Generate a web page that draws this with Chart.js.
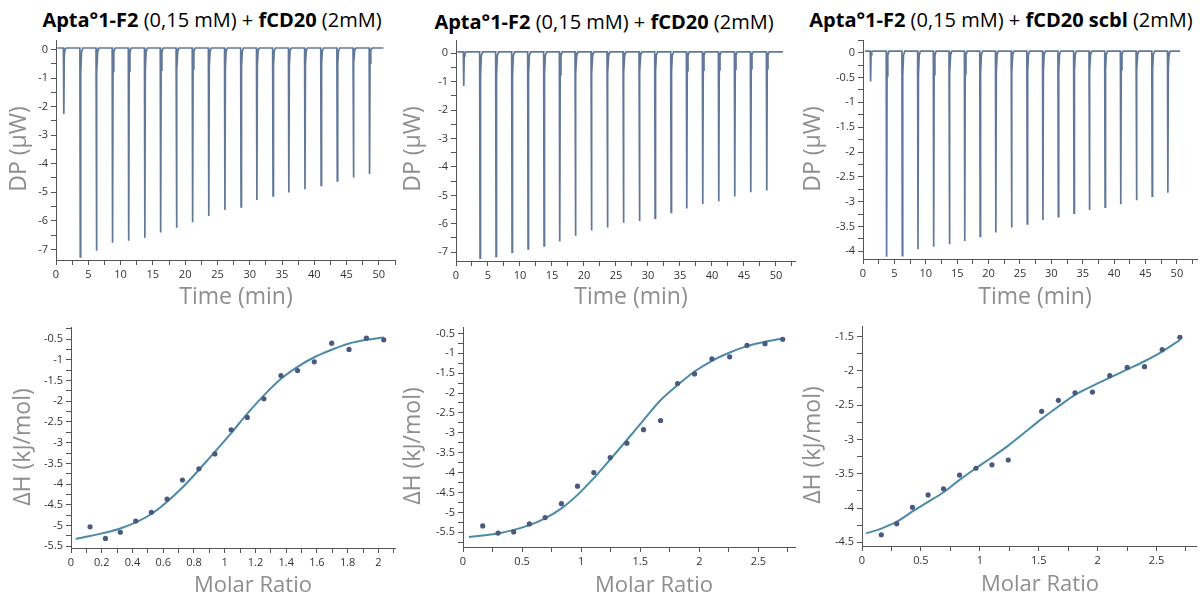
<!DOCTYPE html>
<html><head><meta charset="utf-8">
<script src="https://cdn.jsdelivr.net/npm/chart.js@4.4.1/dist/chart.umd.min.js"></script>
<style>
body{margin:0;width:1200px;height:601px;background:#fff;position:relative;overflow:hidden;font-family:"Open Sans",sans-serif}
.t{position:absolute;white-space:nowrap;font-size:20px;color:#000;transform:translateX(-50%);line-height:26px}
canvas{position:absolute}
</style></head><body>
<div class="t" style="left:212px;top:7px"><b>Apta°1-F2</b> (0,15 mM) + <b>fCD20</b> (2mM)</div>
<div class="t" style="left:604px;top:9px"><b>Apta°1-F2</b> (0,15 mM) + <b>fCD20</b> (2mM)</div>
<div class="t" style="left:1001px;top:7px"><b>Apta°1-F2</b> (0,15 mM) + <b>fCD20 scbl</b> (2mM)</div>
<canvas id="c1" width="400" height="282" style="left:0;top:30px"></canvas>
<canvas id="c2" width="400" height="282" style="left:400px;top:30px"></canvas>
<canvas id="c3" width="400" height="282" style="left:800px;top:30px"></canvas>
<canvas id="c4" width="400" height="284" style="left:0;top:317px"></canvas>
<canvas id="c5" width="400" height="284" style="left:400px;top:317px"></canvas>
<canvas id="c6" width="400" height="284" style="left:800px;top:317px"></canvas>
<script>
// ---- Thermogram data (Time in min, DP in µW) ----
const injectionTimes = [1.15, 3.7, 6.2, 8.7, 11.2, 13.7, 16.15, 18.6, 21.1, 23.6, 26.1, 28.6, 31.05, 33.55, 36.0, 38.5, 41.0, 43.5, 46.0, 48.5];
const peaksA = [-2.26, -7.26, -7.05, -6.77, -6.70, -6.59, -6.41, -6.24, -6.05, -5.83, -5.62, -5.51, -5.27, -5.13, -5.01, -4.89, -4.76, -4.60, -4.48, -4.36];
const peaksB = [-1.15, -7.21, -7.15, -7.00, -6.88, -6.78, -6.62, -6.42, -6.24, -6.13, -5.96, -5.90, -5.80, -5.60, -5.46, -5.30, -5.21, -5.04, -4.89, -4.83];
const peaksC = [-0.58, -4.11, -4.09, -3.96, -3.91, -3.86, -3.79, -3.70, -3.62, -3.52, -3.45, -3.37, -3.30, -3.23, -3.17, -3.11, -3.05, -2.97, -2.89, -2.82];
const baselines = [0.05, 0.05, 0.03];
const traceStart = [0.2, 0.2, 0.3];
const traceEnd = [50.7, 51.1, 50.5];

// ---- Isotherm data (Molar ratio, ΔH in kJ/mol) ----
const ratioA = [0.124, 0.224, 0.321, 0.421, 0.523, 0.625, 0.725, 0.832, 0.936, 1.042, 1.147, 1.255, 1.366, 1.474, 1.583, 1.696, 1.809, 1.922, 2.035];
const dhA = [-5.03, -5.31, -5.16, -4.89, -4.68, -4.36, -3.90, -3.63, -3.27, -2.69, -2.39, -1.94, -1.38, -1.26, -1.05, -0.60, -0.75, -0.48, -0.52];
const fitXA = [0.03, 0.124, 0.321, 0.523, 0.725, 0.936, 1.042, 1.147, 1.255, 1.366, 1.474, 1.583, 1.696, 1.809, 1.922, 2.035];
const fitYA = [-5.32, -5.25, -5.07, -4.72, -4.08, -3.22, -2.77, -2.30, -1.86, -1.46, -1.17, -0.94, -0.76, -0.61, -0.52, -0.46];

const ratioB = [0.167, 0.297, 0.429, 0.562, 0.695, 0.833, 0.969, 1.107, 1.246, 1.387, 1.528, 1.672, 1.816, 1.960, 2.107, 2.257, 2.404, 2.556, 2.706];
const dhB = [-5.34, -5.52, -5.49, -5.29, -5.13, -4.78, -4.34, -4.00, -3.62, -3.26, -2.92, -2.69, -1.76, -1.52, -1.14, -1.09, -0.80, -0.76, -0.65];
const fitXB = [0.05, 0.167, 0.297, 0.429, 0.562, 0.695, 0.833, 0.969, 1.107, 1.246, 1.387, 1.528, 1.672, 1.816, 1.960, 2.107, 2.257, 2.404, 2.556, 2.706];
const fitYB = [-5.62, -5.58, -5.53, -5.44, -5.32, -5.15, -4.90, -4.56, -4.14, -3.67, -3.18, -2.68, -2.18, -1.80, -1.46, -1.19, -0.98, -0.82, -0.71, -0.63];

const ratioC = [0.164, 0.295, 0.428, 0.561, 0.692, 0.828, 0.967, 1.103, 1.241, 1.525, 1.667, 1.808, 1.956, 2.103, 2.251, 2.398, 2.548, 2.698];
const dhC = [-4.39, -4.23, -3.99, -3.81, -3.72, -3.52, -3.42, -3.37, -3.30, -2.59, -2.43, -2.32, -2.31, -2.07, -1.95, -1.94, -1.69, -1.51];
const fitXC = [0.034, 0.164, 0.295, 0.428, 0.561, 0.692, 0.828, 0.967, 1.103, 1.241, 1.38, 1.525, 1.667, 1.808, 1.956, 2.103, 2.251, 2.398, 2.548, 2.698];
const fitYC = [-4.37, -4.30, -4.20, -4.05, -3.91, -3.77, -3.59, -3.42, -3.26, -3.09, -2.90, -2.70, -2.52, -2.35, -2.22, -2.10, -1.98, -1.86, -1.72, -1.55];

// ---- Tick label settings ----
const timeTickStep = [2.5, 5];
const dpTickStepAB = [0.5, 1];
const dpTickStepC = [0.25, 0.5];
const ratioTickStepA = [0.1, 0.2];
const ratioTickStepBC = [0.25, 0.5];
const dhTickStep = [0.25, 0.5];

const TRACE = '#62789b', POINT = '#4a5a7e', FIT = '#4b8aa8', AXIS = '#555', TICKTXT = '#333', TITLE = '#8e8e8e';

function thermogram(peaks, base, start, end) {
  const pts = [{x: start, y: base}];
  injectionTimes.forEach((t, i) => {
    const d = peaks[i];
    pts.push({x: t, y: base}, {x: t + 0.06, y: d}, {x: t + 0.13, y: base + (d - base) * 0.12},
             {x: t + 0.25, y: base + (d - base) * 0.02}, {x: t + 0.45, y: base});
  });
  pts.push({x: end, y: base});
  return pts;
}
function zip(xs, ys) { return xs.map((x, i) => ({x, y: ys[i]})); }

// Axis titles drawn as canvas text at the reference's (slightly off-centre) positions
const axisTitles = {
  id: 'axisTitles',
  afterDraw(chart, args, o) {
    const ctx = chart.ctx;
    ctx.save();
    ctx.fillStyle = TITLE;
    ctx.textAlign = 'center';
    ctx.textBaseline = 'middle';
    ctx.font = o.xSize + 'px "Open Sans", sans-serif';
    ctx.fillText(o.xText, o.xCx, o.xCy);
    ctx.font = o.ySize + 'px "Open Sans", sans-serif';
    ctx.translate(o.yCx, o.yCy);
    ctx.rotate(-Math.PI / 2);
    ctx.fillText(o.yText, 0, 0);
    ctx.restore();
  }
};

function axis(o) {
  const [minor, major] = o.steps;
  return {
    type: 'linear', min: o.min, max: o.max, position: o.pos,
    afterFit: s => { if (o.pos === 'left') s.width = o.size; else s.height = o.size; },
    ticks: {
      stepSize: minor, autoSkip: false, maxRotation: 0, minRotation: 0, includeBounds: false,
      padding: 3, color: TICKTXT,
      font: {family: '"Open Sans", sans-serif', size: 11},
      callback: v => {
        const r = v / major;
        if (Math.abs(r - Math.round(r)) < 1e-6) return String(+v.toFixed(2));
        return '';
      }
    },
    grid: {drawOnChartArea: false, drawTicks: true, tickLength: 5, color: AXIS, lineWidth: 1},
    border: {display: true, color: AXIS, width: 1},
    title: {display: false}
  };
}

function make(id, datasets, xo, yo, pad, titles) {
  new Chart(document.getElementById(id), {
    type: 'scatter',
    data: {datasets},
    options: {
      responsive: false, animation: false, devicePixelRatio: 1,
      layout: {padding: pad},
      plugins: {legend: {display: false}, tooltip: {enabled: false}, axisTitles: titles},
      scales: {x: axis(xo), y: axis(yo)}
    },
    plugins: [axisTitles]
  });
}

function traceDs(data) {
  return {data, showLine: true, borderColor: TRACE, borderWidth: 1.7, pointRadius: 0, tension: 0};
}
function isoDs(px, py, fx, fy) {
  return [
    {data: zip(px, py), showLine: false, pointRadius: 2.6, pointBackgroundColor: POINT, pointBorderWidth: 0, order: 0},
    {data: zip(fx, fy), showLine: true, borderColor: FIT, borderWidth: 2, pointRadius: 0, cubicInterpolationMode: 'monotone', order: 1}
  ];
}

// Top row
make('c1', [traceDs(thermogram(peaksA, baselines[0], traceStart[0], traceEnd[0]))],
  {min: 0, max: 52.5, pos: 'bottom', size: 52, steps: timeTickStep},
  {min: -7.37, max: 0.33, pos: 'left', size: 56, steps: dpTickStepAB},
  {left: 0, right: 5, top: 10, bottom: 0},
  {xText: 'Time (min)', xSize: 23, xCx: 236, xCy: 267, yText: 'DP (µW)', ySize: 23, yCx: 19, yCy: 119});
make('c2', [traceDs(thermogram(peaksB, baselines[1], traceStart[1], traceEnd[1]))],
  {min: 0, max: 52.97, pos: 'bottom', size: 51, steps: timeTickStep},
  {min: -7.31, max: 0.47, pos: 'left', size: 56, steps: dpTickStepAB},
  {left: 0, right: 5, top: 10, bottom: 0},
  {xText: 'Time (min)', xSize: 23, xCx: 231, xCy: 267, yText: 'DP (µW)', ySize: 23, yCx: 13, yCy: 119});
make('c3', [traceDs(thermogram(peaksC, baselines[2], traceStart[2], traceEnd[2]))],
  {min: 0, max: 53.2, pos: 'bottom', size: 53, steps: timeTickStep},
  {min: -4.155, max: 0.256, pos: 'left', size: 63, steps: dpTickStepC},
  {left: 0, right: 3, top: 10, bottom: 0},
  {xText: 'Time (min)', xSize: 23, xCx: 235, xCy: 267, yText: 'DP (µW)', ySize: 23, yCx: 13, yCy: 119});

// Bottom row
make('c4', isoDs(ratioA, dhA, fitXA, fitYA),
  {min: 0, max: 2.108, pos: 'bottom', size: 53, steps: ratioTickStepA},
  {min: -5.54, max: -0.21, pos: 'left', size: 71, steps: dhTickStep},
  {left: 0, right: 5, top: 10, bottom: 0},
  {xText: 'Molar Ratio', xSize: 22, xCx: 253, xCy: 269, yText: 'ΔH (kJ/mol)', ySize: 23, yCx: 23, yCy: 130});
make('c5', isoDs(ratioB, dhB, fitXB, fitYB),
  {min: 0, max: 2.81, pos: 'bottom', size: 54, steps: ratioTickStepBC},
  {min: -5.87, max: -0.34, pos: 'left', size: 63, steps: dhTickStep},
  {left: 0, right: 5, top: 10, bottom: 0},
  {xText: 'Molar Ratio', xSize: 22, xCx: 254, xCy: 269, yText: 'ΔH (kJ/mol)', ySize: 23, yCx: 13, yCy: 129});
make('c6', isoDs(ratioC, dhC, fitXC, fitYC),
  {min: 0, max: 2.835, pos: 'bottom', size: 55, steps: ratioTickStepBC},
  {min: -4.554, max: -1.355, pos: 'left', size: 62, steps: dhTickStep},
  {left: 0, right: 4, top: 8, bottom: 0},
  {xText: 'Molar Ratio', xSize: 22, xCx: 240, xCy: 268, yText: 'ΔH (kJ/mol)', ySize: 23, yCx: 13, yCy: 128});
</script>
</body></html>
